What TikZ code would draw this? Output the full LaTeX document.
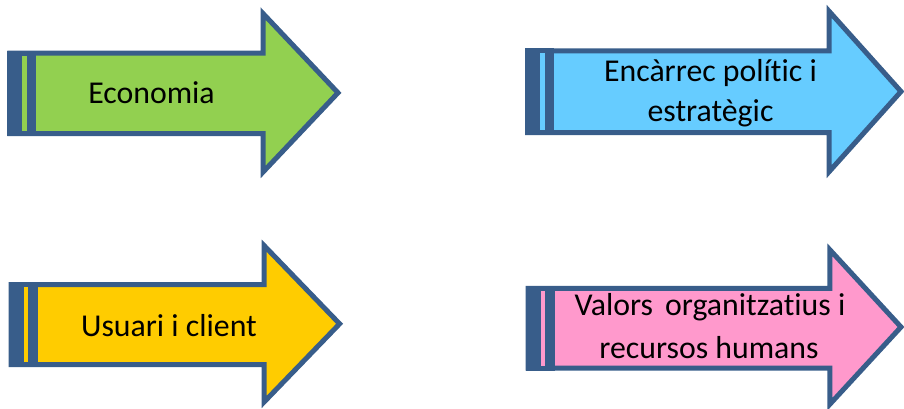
\documentclass[tikz,border=0pt]{standalone}
\usepackage{fontspec}
\setmainfont{Carlito}[Ligatures=NoCommon]
\definecolor{edgeblue}{HTML}{385D8A}
\definecolor{ecogreen}{HTML}{92D050}
\definecolor{polblue}{HTML}{66CCFF}
\definecolor{usryellow}{HTML}{FFCC00}
\definecolor{valpink}{HTML}{FF99CC}

% Striped block arrow.
% #1 fill, #2 outer left x, #3 body top, #4 body bottom, #5 head base x,
% #6 head top, #7 head bottom, #8 tip x, #9 tip y  (outline centre lines)
\newcommand\stripedarrow[9]{%
  \draw[arrowline, fill=#1]
    (#2+2.5,#3) -- (#5,#3) -- (#5,#6) -- (#8,#9) -- (#5,#7) -- (#5,#4)
    -- (#2+2.5,#4) -- cycle;
  \fill[edgeblue] (#2,#3-2.5) rectangle (#2+29,#4+2.5);
  \fill[#1] (#2+15,#3+2.5) rectangle (#2+19.7,#4-2.5);
}

\tikzset{
  arrowline/.style={draw=edgeblue, line width=5pt, line join=miter},
  label/.style={font=\fontsize{31.8}{38}\selectfont, text=black, inner sep=0pt, anchor=base},
}

\begin{document}
\begin{tikzpicture}[x=1pt, y=-1pt]
  \useasboundingbox (0,0) rectangle (904,409);

  \stripedarrow{ecogreen}{7.3}{53.2}{133.5}{263.2}{13.7}{171.9}{338}{92.8}
  \stripedarrow{polblue}{525}{50.8}{132.5}{829.2}{11.4}{171.6}{901}{91.5}
  \stripedarrow{usryellow}{8.5}{284.7}{364.5}{264.2}{245.7}{401.9}{339.6}{323.8}
  \stripedarrow{valpink}{525.5}{288.3}{368}{829.8}{249.7}{404.3}{901}{327}

  \node[label] (eco)  at (151.5,104) {Economia};
  \node[label] (pol1) at (710.5,81.7) {Encàrrec polític i};
  \node[label] (pol2) at (710.5,121.7) {estratègic};
  \node[label] (usr)  at (169,336) {Usuari i client};
  \node[label] (val1) at (710,315) {Valors\hspace{0.15em} organitzatius i};
  \node[label] (val2) at (709,358.3) {recursos humans};
\end{tikzpicture}
\end{document}
